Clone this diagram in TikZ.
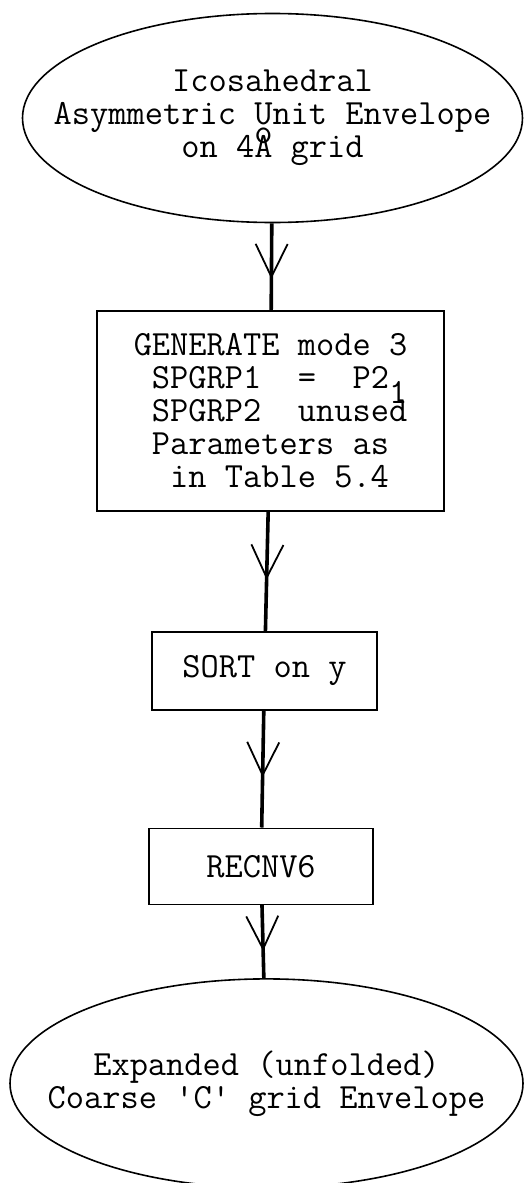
\documentclass[tikz,border=0pt]{standalone}
\usepackage{fontspec}
\usetikzlibrary{shapes.geometric,positioning,decorations.markings,arrows.meta}

% one typewriter blank that survives at the start of a line
\newcommand\tsp{\hphantom{x}}

\begin{document}
\begin{tikzpicture}
[x=1pt,y=1pt,
every node/.style={font=\ttfamily\fontsize{35.4}{33}\selectfont,inner sep=0pt},
envelope/.style={ellipse,draw,line width=1.6pt,align=center,inner xsep=-60pt},
prog/.style={rectangle,draw,line width=1.6pt},
flow/.style={line width=3.6pt,
postaction={decorate,decoration={markings,
mark=at position #1 with {\arrow{Straight Barb[length=33pt,width=32pt,line width=1.8pt]}}}}},
flow/.default=0.6]

\useasboundingbox (0,0) rectangle (526,-1183);

\node [envelope,minimum width=500pt,minimum height=209pt] (icos) at (272.5,-118)
{Icosahedral\\Asymmetric Unit Envelope\\on 4\rlap{\smash{\raisebox{14pt}{o}}}A grid};
\node [prog,minimum width=347pt,minimum height=200pt,align=left] (gen) [below=87pt of icos,xshift=-2pt]
{GENERATE mode 3\\
\tsp SPGRP1\tsp\tsp=\tsp\tsp P2\smash{\raisebox{-15pt}{1}}\\
\tsp SPGRP2\tsp\tsp unused\\
\tsp Parameters as\\
\tsp\tsp in Table 5.4};
\node [prog,minimum width=225pt,minimum height=78pt] (sort) [below=119pt of gen,xshift=-6pt] {SORT on y};
\node [prog,minimum width=224pt,minimum height=76pt] (recnv) [below=117pt of sort,xshift=-3.5pt] {RECNV6};
\node [envelope,minimum width=513pt,minimum height=209pt] (coarse) [below=73pt of recnv,xshift=5.5pt]
{Expanded (unfolded)\\Coarse 'C' grid Envelope};

\draw [flow=0.64] (icos) -- (gen);
\draw [flow=0.57] (gen) -- (sort);
\draw [flow=0.57] (sort) -- (recnv);
\draw [flow=0.63] (recnv) -- (coarse);
\end{tikzpicture}
\end{document}
